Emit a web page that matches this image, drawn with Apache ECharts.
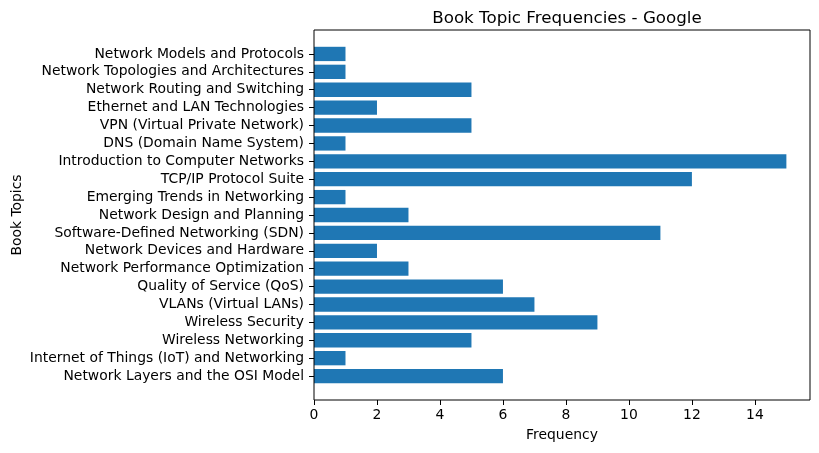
<!DOCTYPE html>
<html>
<head>
<meta charset="utf-8">
<script src="https://cdn.jsdelivr.net/npm/echarts@6/dist/echarts.min.js"></script>
<style>
  html, body { margin: 0; padding: 0; background: #fff; }
  #chart { width: 819px; height: 453px; }
</style>
</head>
<body>
<div id="chart"></div>
<script>
// topics listed bottom to top, as on the axis
var topics = [
  'Network Layers and the OSI Model',
  'Internet of Things (IoT) and Networking',
  'Wireless Networking',
  'Wireless Security',
  'VLANs (Virtual LANs)',
  'Quality of Service (QoS)',
  'Network Performance Optimization',
  'Network Devices and Hardware',
  'Software-Defined Networking (SDN)',
  'Network Design and Planning',
  'Emerging Trends in Networking',
  'TCP/IP Protocol Suite',
  'Introduction to Computer Networks',
  'DNS (Domain Name System)',
  'VPN (Virtual Private Network)',
  'Ethernet and LAN Technologies',
  'Network Routing and Switching',
  'Network Topologies and Architectures',
  'Network Models and Protocols'
];
var frequency = [6, 1, 5, 9, 7, 6, 3, 2, 11, 3, 1, 12, 15, 1, 5, 2, 5, 1, 1];
var xTicks = [0, 2, 4, 6, 8, 10, 12, 14];

var font = 'DejaVu Sans';
var chart = echarts.init(document.getElementById('chart'));

chart.setOption({
  animation: false,
  textStyle: { fontFamily: font },
  title: {
    text: 'Book Topic Frequencies - Google',
    left: 562,
    textAlign: 'center',
    top: 5,
    textStyle: { fontFamily: font, fontSize: 16.7, fontWeight: 'normal', color: '#000' }
  },
  grid: [
    // bars
    { left: 314, right: 9, top: 45, height: 340, outerBoundsMode: 'none', containLabel: false },
    // frame around the plot area
    { left: 314, right: 9, top: 30, bottom: 53, outerBoundsMode: 'none', show: true, borderColor: '#000', borderWidth: 1, backgroundColor: 'transparent', z: 5 }
  ],
  xAxis: [
    {
      type: 'value',
      gridIndex: 0,
      min: 0,
      max: 15.75,
      interval: 2,
      offset: 15,
      splitLine: { show: false },
      axisLine: { show: false },
      axisTick: { show: true, length: 5, lineStyle: { color: '#000' }, customValues: xTicks },
      axisLabel: { color: '#000', fontSize: 13.9, margin: 8, customValues: xTicks },
      name: 'Frequency',
      nameLocation: 'middle',
      nameGap: 28,
      nameMoveOverlap: false,
      nameTextStyle: { color: '#000', fontSize: 13.9 }
    },
    { type: 'value', gridIndex: 1, show: false, min: 0, max: 1 }
  ],
  yAxis: [
    {
      type: 'category',
      gridIndex: 0,
      data: topics,
      axisLine: { show: false },
      axisTick: { show: true, alignWithLabel: true, length: 5, lineStyle: { color: '#000' } },
      axisLabel: { color: '#000', fontSize: 13.9, margin: 10, interval: 0 },
      name: 'Book Topics',
      nameLocation: 'middle',
      nameGap: 290,
      nameRotate: 90,
      nameMoveOverlap: false,
      nameTextStyle: { color: '#000', fontSize: 13.9 }
    },
    { type: 'value', gridIndex: 1, show: false, min: 0, max: 1 }
  ],
  series: [
    {
      type: 'bar',
      xAxisIndex: 0,
      yAxisIndex: 0,
      data: frequency,
      barWidth: '80%',
      itemStyle: { color: '#1f77b4' }
    }
  ]
});
</script>
</body>
</html>
